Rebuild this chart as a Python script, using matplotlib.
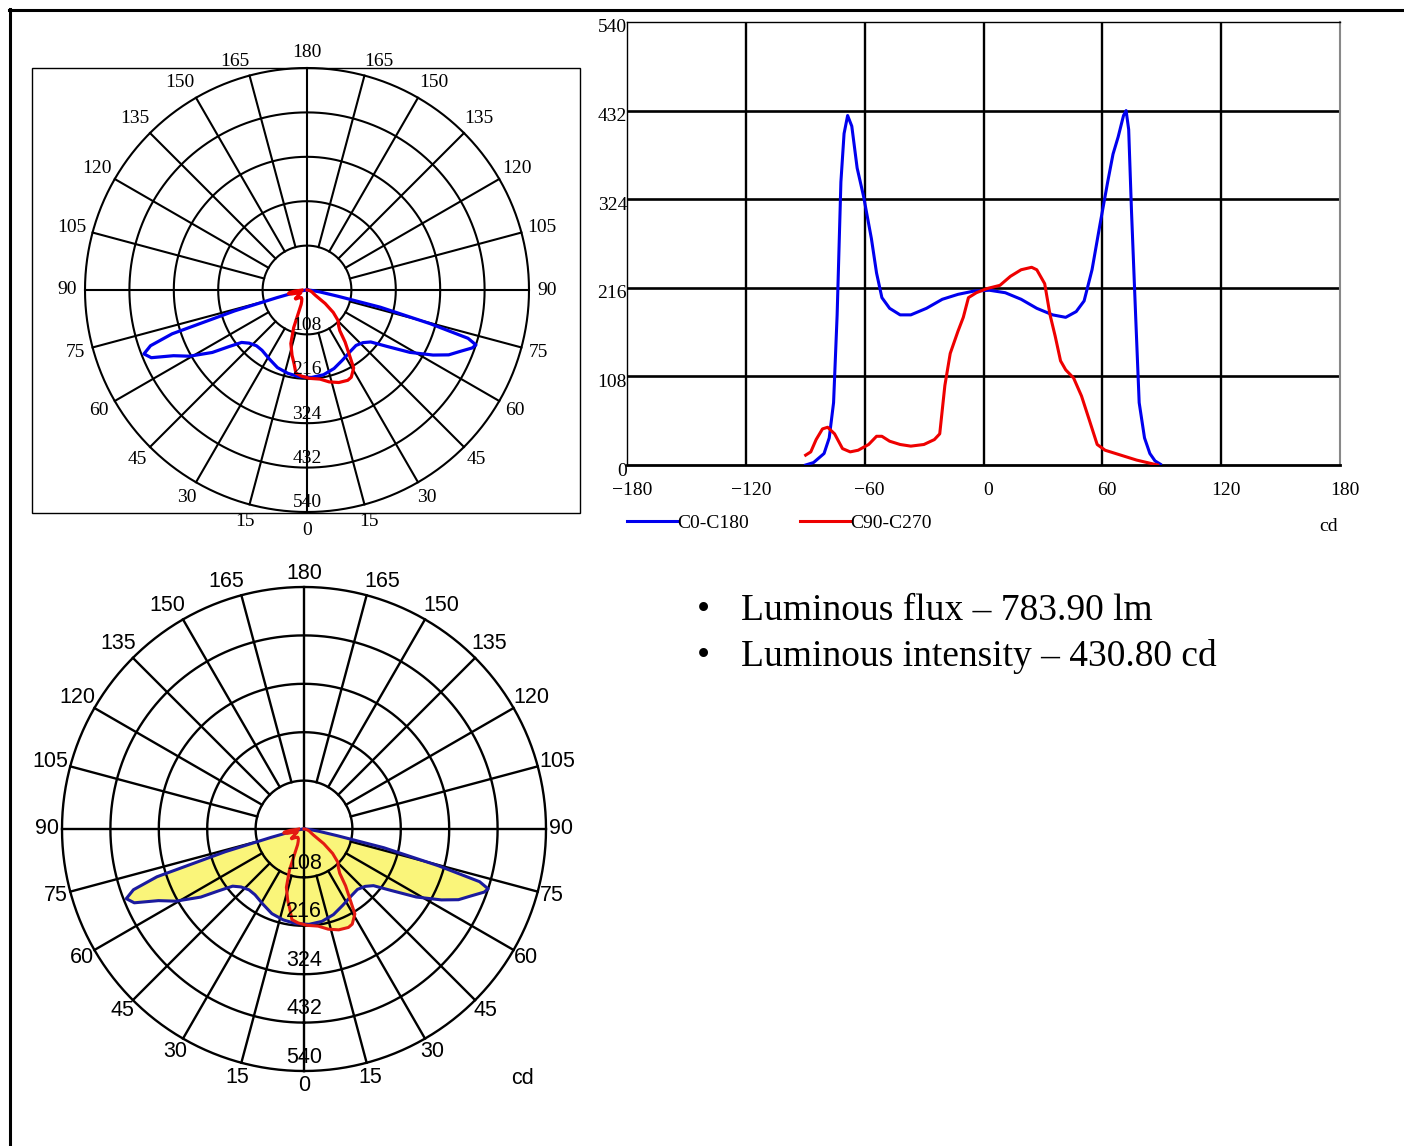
import numpy as np
import matplotlib.pyplot as plt
from matplotlib.patches import Rectangle
from matplotlib.lines import Line2D
from matplotlib.transforms import ScaledTranslation

# ------------------------------ dados ------------------------------ #
# C0-C180 (azul): angulo (graus) e intensidade (cd)
c0_ang = [-89.8, -85.8, -80.5, -77.9, -75.7, -73.9, -72.0, -70.4, -68.6, -66.5,
          -63.8, -60.6, -56.6, -54.0, -51.3, -47.4, -42.1, -36.7, -28.8, -20.8,
          -12.9, -4.9, 3.0, 11.0, 19.0, 26.9, 34.9, 41.5, 46.8, 50.8,
          54.8, 58.8, 62.7, 65.4, 68.0, 70.7, 72.0, 73.3, 74.7, 76.8,
          78.6, 81.3, 84.0, 86.6, 89.3]
c0_cd = [0, 3, 14, 33, 76, 183, 345, 404, 426, 413,
         362, 328, 276, 234, 204, 191, 183, 183, 191, 202,
         208, 212, 213, 210, 202, 191, 183, 180, 187, 200,
         238, 293, 345, 379, 400, 426, 432, 409, 311, 183,
         76, 33, 14, 5, 1]

# C90-C270 (vermelho)
c90_ang = [-89.8, -87.2, -84.5, -81.3, -78.7, -75.2, -71.2, -67.3, -63.3, -58.0,
           -54.0, -51.3, -47.4, -42.1, -36.7, -30.1, -24.8, -22.1, -19.5, -16.8,
           -12.9, -10.2, -7.6, -3.6, 1.7, 8.3, 13.6, 19.0, 24.3, 26.9,
           30.9, 33.6, 36.2, 38.9, 41.5, 45.5, 49.5, 53.4, 57.4, 61.4,
           66.7, 72.0, 77.3, 82.6, 87.9]
c90_cd = [12, 16, 31, 44, 46, 38, 20, 16, 18, 25,
          35, 35, 29, 25, 23, 25, 31, 38, 97, 136,
          163, 180, 204, 210, 215, 219, 230, 238, 241, 238,
          221, 183, 157, 127, 116, 106, 84, 55, 25, 18,
          14, 10, 6, 3, 0]

aneis = [108, 216, 324, 432, 540]
angulos_rotulo = list(range(0, 181, 15))
xticks_val = [-180, -120, -60, 0, 60, 120, 180]
xticks_txt = ["\u2212180", "\u2212120", "\u221260", "0", "60", "120", "180"]
yticks_val = [0, 108, 216, 324, 432, 540]
legenda = ["C0-C180", "C90-C270"]
info = ["Luminous flux \u2013 783.90 lm", "Luminous intensity \u2013 430.80 cd"]

W, H = 1404, 1146
SERIF = ["Liberation Serif", "DejaVu Serif"]
SANS = ["Liberation Sans", "DejaVu Sans"]

# pequenos ajustes de angulo/raio dos rotulos perto do eixo vertical
ajuste_ang = {165: -2.5, 150: -1.5}
ajuste_raio = {165: -7, 180: -14}

fig = plt.figure(figsize=(W / 100, H / 100), dpi=100)


def fx(px):
    return px / W


def fy(py):
    return 1 - py / H


def grade_polar(ax, lw, r_cima, r_baixo, fonte, tam, desloc):
    ax.set_theta_zero_location("S")
    ax.set_ylim(0, 540)
    ax.set_xticks([])
    ax.set_yticks([])
    ax.grid(False)
    ax.spines["polar"].set_visible(False)
    ax.patch.set_alpha(0)
    t = np.linspace(0, 2 * np.pi, 721)
    for r in aneis:
        ax.plot(t, np.full_like(t, r), color="k", lw=lw, zorder=2, clip_on=False)
    for a in range(0, 360, 15):
        th = np.radians(a)
        r0 = 0 if a % 90 == 0 else 108
        ax.plot([th, th], [r0, 540], color="k", lw=lw, zorder=2, clip_on=False)
    for a in angulos_rotulo:
        lados = (1,) if a in (0, 180) else (1, -1)
        r_rot = (r_cima if a > 90 else r_baixo) + ajuste_raio.get(a, 0)
        for s in lados:
            ang = a + ajuste_ang.get(a, 0)
            ax.text(np.radians(s * ang), r_rot, str(a), ha="center", va="center",
                    family=fonte, fontsize=tam, zorder=5)
    for r in aneis:
        ax.text(0, r - desloc, str(r), ha="center", va="center",
                family=fonte, fontsize=tam, zorder=5)


# ---------------------------- moldura ----------------------------- #
fig.add_artist(Line2D([fx(9), 1], [fy(10), fy(10)], color="k", lw=2.2))
fig.add_artist(Line2D([fx(10), fx(10)], [fy(9), 0], color="k", lw=2.2))
fig.add_artist(Rectangle((fx(32), fy(513)), fx(548), 445 / H, transform=fig.transFigure,
                         fill=False, ec="k", lw=1.0))

# ------------------------- polar superior ------------------------- #
ax1 = fig.add_axes([fx(85), fy(512), fx(444), 444 / H], projection="polar")
grade_polar(ax1, 1.5, 591, 584, SERIF, 14, 22)
ax1.plot(np.radians(c0_ang), c0_cd, color="#0000ee", lw=2.3, zorder=3)
ax1.plot(np.radians(c90_ang), c90_cd, color="#ee0000", lw=2.3, zorder=3)

# ------------------------- polar inferior ------------------------- #
ax3 = fig.add_axes([fx(62), fy(1071), fx(484), 484 / H], projection="polar")
ax3.fill(np.radians(c0_ang), c0_cd, color="#faf57a", lw=0, zorder=1)
ax3.fill(np.radians(c90_ang), c90_cd, color="#faf57a", lw=0, zorder=1)
grade_polar(ax3, 1.7, 585, 573, SANS, 15.5, 31)
ax3.plot(np.radians(c0_ang), c0_cd, color="#1b1b9e", lw=2.2, zorder=3)
ax3.plot(np.radians(c90_ang), c90_cd, color="#e31b12", lw=2.2, zorder=3)
fig.text(fx(523), fy(1078), "cd", ha="center", va="center", family=SANS, fontsize=15.5)

# --------------------------- cartesiano --------------------------- #
ax2 = fig.add_axes([fx(627), fy(465), fx(713), 443 / H])
for v in xticks_val[1:-1]:
    ax2.axvline(v, color="k", lw=1.7, zorder=1)
for v in yticks_val[1:-1]:
    ax2.axhline(v, color="k", lw=1.9, zorder=1)
l1, = ax2.plot(c0_ang, c0_cd, color="#0000ee", lw=2.2, zorder=3)
l2, = ax2.plot(c90_ang, c90_cd, color="#ee0000", lw=2.2, zorder=3)
ax2.set_xlim(-180, 180)
ax2.set_ylim(0, 540)
ax2.set_xticks(xticks_val)
ax2.set_xticklabels(xticks_txt, family=SERIF, fontsize=14)
ax2.set_yticks(yticks_val)
ax2.set_yticklabels([str(v) for v in yticks_val], family=SERIF, fontsize=14)
ax2.tick_params(length=0)
ax2.tick_params(axis="x", pad=12)
ax2.tick_params(axis="y", pad=0)
for lab in ax2.get_yticklabels():
    lab.set_transform(lab.get_transform() + ScaledTranslation(0, -0.04, fig.dpi_scale_trans))
for lab in ax2.get_xticklabels():
    lab.set_transform(lab.get_transform() + ScaledTranslation(0.05, 0, fig.dpi_scale_trans))
for s in ("top", "left"):
    ax2.spines[s].set_linewidth(1.0)
ax2.spines["right"].set_color("#888888")
ax2.spines["right"].set_linewidth(1.5)
ax2.spines["bottom"].set_linewidth(2.0)

ax2.legend([l1, l2], legenda, loc="center left", bbox_to_anchor=(0, (465 - 523) / 443),
           ncol=2, frameon=False, borderaxespad=0, borderpad=0, handlelength=2.6,
           handletextpad=0, columnspacing=2.6, prop={"family": SERIF, "size": 14})
fig.text(fx(1329), fy(527), "cd", ha="center", va="center", family=SERIF, fontsize=14)

# ----------------------------- texto ------------------------------ #
for i, linha in enumerate(info):
    y = fy(620 + 46 * i)
    fig.text(fx(697), y, "\u2022", ha="left", va="baseline", family=SERIF, fontsize=27)
    fig.text(fx(741), y, linha, ha="left", va="baseline", family=SERIF, fontsize=27)

fig.savefig("out.png", dpi=100)
